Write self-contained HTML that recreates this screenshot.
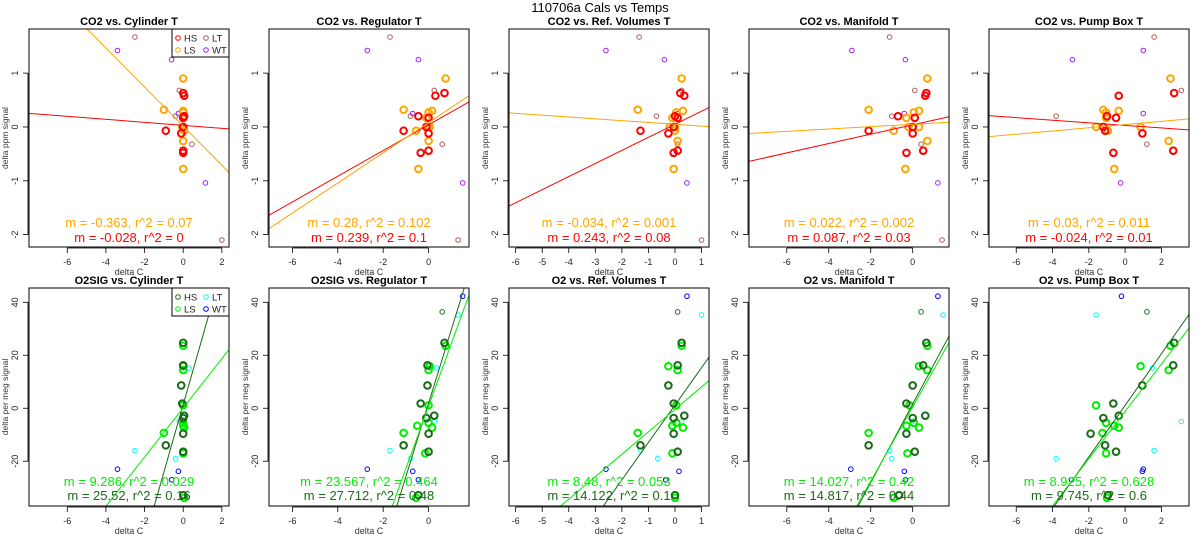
<!DOCTYPE html>
<html><head><meta charset="utf-8"><style>
html,body{margin:0;padding:0;background:#fff;width:1200px;height:550px;overflow:hidden;}
svg{display:block;font-family:"Liberation Sans",Arial,sans-serif;}
</style></head><body>
<svg id="chart" width="1200" height="550" viewBox="0 0 1200 550">
<text x="600" y="12" text-anchor="middle" font-size="13">110706a   Cals vs Temps</text>
</svg>
<script>
// ---- shared y values ----
const topHSy=[0.63,0.58,0.2,0.17,0,-0.07,-0.12,-0.44,-0.48];
const topLSy=[0.9,0.32,0.3,0.27,0.17,0.0,0.0,-0.07,-0.26,-0.78];
const topLTy=[1.67,0.68,0.2,-0.32,-2.1];
const topWTy=[1.42,1.25,0.25,-1.04];
const topHSx=[[0,0.05,0.05,0,0,-0.9,-0.1,0,0],[0.7,0.3,-0.45,0,-0.1,-1.1,0,0,-0.35],[0.2,0.35,0,0.1,-0.05,-1.3,-0.25,0.1,-0.05],[0.65,0.6,-0.7,0.1,0,-2.1,0,0.5,-0.3],[2.7,-0.35,-1.0,-0.5,-1.2,-1.1,0.95,2.65,-0.65]];
const topLSx=[[0,-1,0,0,0,0,-0.05,0.05,0,0],[0.75,-1.1,0.15,0,-0.1,0,0.05,-0.55,0,-0.45],[0.25,-1.4,0.3,0.05,-0.1,-0.2,0,0,0.1,-0.05],[0.7,-2.1,0.3,0.05,-0.3,-0.2,0.3,-0.9,0.7,-0.35],[2.5,-1.2,-0.35,-1.05,-1.05,-1.6,0.85,-0.95,2.4,-0.6]];
const topLTx=[[-2.5,-0.2,-0.4,0.45,2.0],[-1.7,0.25,-0.8,0.6,1.3],[-1.35,0.25,-0.7,0.1,1.0],[-1.1,0.1,-1.0,0.4,1.4],[1.6,3.1,-3.8,1.2,null]];
const topWTx=[[-3.4,-0.6,-0.25,1.15],[-2.7,-0.45,-0.7,1.5],[-2.6,-0.4,0.1,0.45],[-2.9,-0.35,-0.4,1.2],[1.0,-2.9,1.0,-0.25]];
const topLSfit=[[-0.363,0.015],[0.28,0.08],[-0.034,0.05],[0.022,0.05],[0.03,0.045]];
const topHSfit=[[-0.028,0.03],[0.239,0.04],[0.243,0.05],[0.087,0.04],[-0.024,0.03]];
const topLSlabel=["m = -0.363, r^2 = 0.07","m = 0.28, r^2 = 0.102","m = -0.034, r^2 = 0.001","m = 0.022, r^2 = 0.002","m = 0.03, r^2 = 0.011"];
const topHSlabel=["m = -0.028, r^2 = 0","m = 0.239, r^2 = 0.1","m = 0.243, r^2 = 0.08","m = 0.087, r^2 = 0.03","m = -0.024, r^2 = 0.01"];
const topTitles=["CO2 vs. Cylinder T","CO2 vs. Regulator T","CO2 vs. Ref. Volumes T","CO2 vs. Manifold T","CO2 vs. Pump Box T"];

const botHSy=[24.7,16.2,8.6,1.8,-2.8,-3.7,-9.6,-14,-16.4,-32.8];
const botLSy=[23.6,15.9,14.4,1.1,-5.5,-6.6,-7.3,-9.3,-17,-33.8];
const botLTy=[35.2,15.2,-5,-16,-19];
const botWTy=[42.3,-23,-23.8,-27];
const botHSsmallY=[36.4];
const botHSx=[[0,0,-0.1,-0.05,0.05,0,0,-0.9,0,0],[0.7,-0.05,-0.05,-0.35,0.25,-0.1,0,-1.1,0,-0.45],[0.25,0.1,-0.25,-0.05,0.35,-0.05,-0.05,-1.3,0.1,0],[0.65,0.5,0,-0.3,0.6,0,-0.3,-2.1,0.1,-0.65],[2.7,2.65,0.95,-0.65,-0.35,-1.2,-1.9,-1.1,-0.5,-0.95]];
const botLSx=[[0,0,0,0,0,0,0.05,-1,0,0.05],[0.75,0.05,0,0,0,-0.5,0.15,-1.1,-0.15,-0.55],[0.25,-0.25,0.1,0.05,0.05,-0.1,0.3,-1.4,-0.1,0],[0.7,0.3,0.7,-0.15,0.05,-0.3,0.3,-2.1,-0.25,-0.9],[2.5,0.85,2.4,-1.6,-1.05,-0.6,-0.35,-1.25,-1.05,-1.0]];
const botLTx=[[null,0.3,-0.2,-2.5,-0.4],[1.3,0.35,0.25,-1.7,-0.8],[1.0,null,0.25,-1.3,-0.65],[1.45,null,0.1,-1.1,-1.0],[-1.6,1.5,3.1,1.6,-3.8]];
const botWTx=[[null,-3.4,-0.25,-0.6],[1.5,-2.7,-0.7,-0.45],[0.45,-2.6,0.15,-0.35],[1.2,-2.95,-0.4,-0.35],[-0.2,1.0,0.95,-2.95]];
const botHSsmallX=[[null],[0.6],[0.1],[0.4],[1.2]];
const botLSfit=[[9.286,0.14],[23.567,0.8],[8.48,-0.4],[14.027,0.5],[8.925,-1.2]];
const botHSfit=[[25.52,1.4],[27.712,1.9],[14.122,1.2],[14.817,1.6],[9.745,1.1]];
const botLSlabel=["m = 9.286, r^2 = 0.029","m = 23.567, r^2 = 0.464","m = 8.48, r^2 = 0.053","m = 14.027, r^2 = 0.42","m = 8.925, r^2 = 0.628"];
const botHSlabel=["m = 25.52, r^2 = 0.16","m = 27.712, r^2 = 0.48","m = 14.122, r^2 = 0.1","m = 14.817, r^2 = 0.44","m = 9.745, r^2 = 0.6"];
const botTitles=["O2SIG vs. Cylinder T","O2SIG vs. Regulator T","O2 vs. Ref. Volumes T","O2 vs. Manifold T","O2 vs. Pump Box T"];

const xDomains=[[-7.98,2.37],[-7.03,1.78],[-6.25,1.28],[-7.8,1.73],[-7.5,3.52]];
const xTicks=[[-6,-4,-2,0,2],[-6,-4,-2,0],[-6,-5,-4,-3,-2,-1,0,1],[-6,-4,-2,0],[-6,-4,-2,0,2]];
const topYTicks=[1,0,-1,-2];
const botYTicks=[40,20,0,-20];
const topYDomain=[-2.23,1.82];
const botYDomain=[-36.9,45.4];

const NS="http://www.w3.org/2000/svg";
const svg=document.getElementById('chart');
function mk(tag,attrs,parent,txt){const e=document.createElementNS(NS,tag);for(const k in attrs)e.setAttribute(k,attrs[k]);if(txt!==undefined)e.textContent=txt;(parent||svg).appendChild(e);return e;}

function panel(i,row){
  const L=29+240*i,R=L+200;
  const T=row?288:29,B=row?506:247;
  const xd=xDomains[i],yd=row?botYDomain:topYDomain;
  const sx=v=>L+(v-xd[0])/(xd[1]-xd[0])*(R-L);
  const sy=v=>B-(v-yd[0])/(yd[1]-yd[0])*(B-T);
  const g=mk('g',{});
  
  
  const cid='clip'+row+i;
  const cp=mk('clipPath',{id:cid},g);mk('rect',{x:L,y:T,width:R-L,height:B-T},cp);
  const t=mk('text',{x:(L+R)/2,y:T-4,'text-anchor':'middle','font-size':11,'font-weight':'bold'},g,(row?botTitles:topTitles)[i]);
  
  const xt=xTicks[i];
  const xa=mk('g',{},g);
  mk('line',{x1:sx(xt[0]),x2:sx(xt[xt.length-1]),y1:B+1,y2:B+1,stroke:'#000','stroke-width':0.8},xa);
  xt.forEach(v=>{mk('line',{x1:sx(v),x2:sx(v),y1:B+1,y2:B+6,stroke:'#000','stroke-width':0.8},xa);
    const tl=mk('text',{x:sx(v),y:B+18,'text-anchor':'middle','font-size':9,fill:'#222'},xa,String(v));
    });
  const xl=mk('text',{x:(L+R)/2,y:B+28,'text-anchor':'middle','font-size':9,fill:'#333'},g,'delta C');
  
  const yt=row?botYTicks:topYTicks;
  const ya=mk('g',{},g);
  mk('line',{x1:L-1,x2:L-1,y1:sy(yt[0]),y2:sy(yt[yt.length-1]),stroke:'#000','stroke-width':0.8},ya);
  yt.forEach(v=>{mk('line',{x1:L-6,x2:L-1,y1:sy(v),y2:sy(v),stroke:'#000','stroke-width':0.8},ya);
    const tl=mk('text',{x:L-11,y:sy(v),'text-anchor':'middle','font-size':9,fill:'#222',transform:`rotate(-90 ${L-11} ${sy(v)})`},ya,String(v));
    });
  const cy=(T+B)/2,cx=L-21;
  const yl=mk('text',{x:cx,y:cy,'text-anchor':'middle','font-size':8.5,fill:'#333',transform:`rotate(-90 ${cx} ${cy})`},g,row?'delta per meg signal':'delta ppm signal');
  
  const clipG=mk('g',{'clip-path':`url(#${cid})`},g);
  function pts(xs,ys,col,thick,name){
    ys.forEach((y,k)=>{const x=xs[k];if(x===null||x===undefined)return;
      const c=mk('circle',{cx:sx(x),cy:sy(y),r:thick?3.3:2.3,fill:'none',stroke:col,'stroke-width':thick?2:1},clipG);
      });
  }
  function fit(f,col,name){const x0=xd[0],x1=xd[1];
    const l=mk('line',{x1:sx(x0),y1:sy(f[1]+f[0]*x0),x2:sx(x1),y2:sy(f[1]+f[0]*x1),stroke:col,'stroke-width':1},clipG);
    }
  if(!row){
    pts(topLTx[i],topLTy,'#b55a5a',false,'lt-point');
    pts(topWTx[i],topWTy,'#a020f0',false,'wt-point');
    pts(topLSx[i],topLSy,'#ffa500',true,'ls-point');
    pts(topHSx[i],topHSy,'#ff0000',true,'hs-point');
    fit(topHSfit[i],'#ff0000','hs-fit-line');fit(topLSfit[i],'#ffa500','ls-fit-line');
  }else{
    pts(botLTx[i],botLTy,'#00ffff',false,'lt-point');
    pts(botWTx[i],botWTy,'#0000ff',false,'wt-point');
    pts(botHSsmallX[i],botHSsmallY,'#1a7a1a',false,'hs-small-point');
    pts(botLSx[i],botLSy,'#00ee00',true,'ls-point');
    pts(botHSx[i],botHSy,'#1a6a1a',true,'hs-point');
    fit(botHSfit[i],'#1a6a1a','hs-fit-line');fit(botLSfit[i],'#00ee00','ls-fit-line');
  }
  const c1=row?'#00ee00':'#ffa500',c2=row?'#1a6a1a':'#ff0000';
  const y1=row?486:227,y2=row?500:242;
  const s1=mk('text',{x:(L+R)/2,y:y1,'text-anchor':'middle','font-size':13,fill:c1},g,(row?botLSlabel:topLSlabel)[i]);
  
  const s2=mk('text',{x:(L+R)/2,y:y2,'text-anchor':'middle','font-size':13,fill:c2},g,(row?botHSlabel:topHSlabel)[i]);
  
  mk('rect',{x:L,y:T,width:R-L,height:B-T,fill:'none',stroke:'#000','stroke-width':1},g);
  if(i===0){
    const lg=mk('g',{},g);
    mk('rect',{x:172,y:T,width:57,height:28,fill:'#fff',stroke:'#000','stroke-width':1},lg);
    const ents=row?[['HS','#1a6a1a',178,T+9],['LS','#00ee00',178,T+21],['LT','#00ffff',206,T+9],['WT','#0000ff',206,T+21]]
                  :[['HS','#ff0000',178,T+9],['LS','#ffa500',178,T+21],['LT','#b55a5a',206,T+9],['WT','#a020f0',206,T+21]];
    ents.forEach(e=>{const eg=mk('g',{},lg);
      
      mk('circle',{cx:e[2],cy:e[3],r:2.3,fill:'none',stroke:e[1],'stroke-width':1},eg);
      mk('text',{x:e[2]+6,y:e[3]+3.5,'font-size':9.5,fill:'#222'},eg,e[0]);});
  }
}
for(let r=0;r<2;r++)for(let i=0;i<5;i++)panel(i,r);
</script>
</body></html>
